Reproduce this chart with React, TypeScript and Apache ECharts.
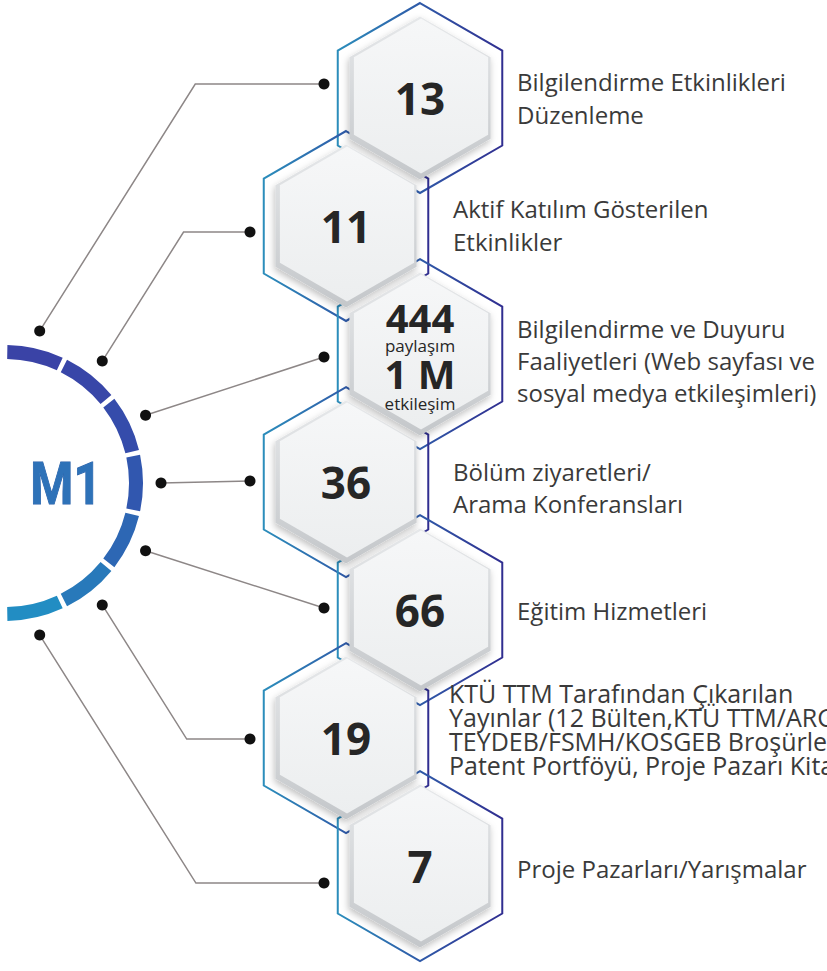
import React, { useEffect, useRef } from "react";
import * as echarts from "echarts";

// ---------- data ----------
const values = ["13", "11", "444", "36", "66", "19", "7"];
const valueNotes = ["", "", "paylaşım", "", "", "", ""];
const secondValues = ["", "", "1 M", "", "", "", ""];
const secondNotes = ["", "", "etkileşim", "", "", "", ""];
const labels = [
  "Bilgilendirme Etkinlikleri\nDüzenleme",
  "Aktif Katılım Gösterilen\nEtkinlikler",
  "Bilgilendirme ve Duyuru\nFaaliyetleri (Web sayfası ve\nsosyal medya etkileşimleri)",
  "Bölüm ziyaretleri/\nArama Konferansları",
  "Eğitim Hizmetleri",
  "KTÜ TTM Tarafından Çıkarılan\nYayınlar (12 Bülten,KTÜ TTM/ARGE\nTEYDEB/FSMH/KOSGEB Broşürleri,\nPatent Portföyü, Proje Pazarı Kitapçığı)",
  "Proje Pazarları/Yarışmalar",
];
const centerTitle = "M1";

// ---------- layout / style (not data) ----------
const segmentColors = ["#3a43a6", "#3846a8", "#354cab", "#3157af", "#2d67b4", "#2879ba", "#228dc3"];
const labelDy = [0, -1, 6, 5, 0, -9, 2];
const labelSize = [24, 24, 24, 24, 24, 25, 24];
const labelLineH = [33, 33, 32, 32, 32, 24, 32];
const dotDy = [-14, 6, 3, -1, -2, 1, 17];
const bent = [true, true, false, false, false, true, true];

const ARC_CX = 5;
const ARC_CY = 483;
const FONT = "'Open Sans', 'Noto Sans', sans-serif";

const cols = values.map((_, i) => (i % 2 === 0 ? 1 : 0));
const rows = values.map((_, i) => i);
const hexData = values.map((_, i) => [cols[i], rows[i]]);

function hexPoints(cx: number, cy: number, R: number) {
  const pts: number[][] = [];
  for (let k = 0; k < 6; k++) {
    const a = ((-90 + 60 * k) * Math.PI) / 180;
    pts.push([cx + R * Math.cos(a), cy + R * Math.sin(a)]);
  }
  return pts;
}

function gridR(api: any) {
  const s = api.size([1, 1]);
  return s[1] / 1.5;
}

export default function App() {
  const ref = useRef<HTMLDivElement>(null);
  useEffect(() => {
    const chart = echarts.init(ref.current!, null, { renderer: "svg" });

    const outlineGrad = () =>
      new echarts.graphic.LinearGradient(0, 0, 1, 0, [
        { offset: 0, color: "#2b8dbb" },
        { offset: 0.5, color: "#2f5aa8" },
        { offset: 1, color: "#302e90" },
      ]);

    const n = values.length;
    const segDeg = 180 / n;

    const option: any = {
      animation: false,
      backgroundColor: "#ffffff",
      grid: { left: 0, right: 0, top: 0, bottom: 0, outerBoundsMode: "none" },
      xAxis: { type: "value", min: -4.676, max: 6.5, show: false },
      yAxis: { type: "value", min: -0.7656, max: 6.82, inverse: true, show: false },
      graphic: [
        {
          type: "text",
          x: 66,
          y: 483,
          scaleX: 0.82,
          z: 10,
          style: {
            text: centerTitle,
            fontSize: 60,
            fontWeight: "bold",
            fontFamily: "Roboto, 'DejaVu Sans', sans-serif",
            align: "center",
            verticalAlign: "middle",
            fill: "#2e72b8",
            stroke: "#2a5fa8",
            lineWidth: 1,
            shadowColor: "#1b1e3a",
            shadowOffsetX: 3,
            shadowOffsetY: 2,
            shadowBlur: 0,
          },
        },
      ],
      series: [
        {
          type: "pie",
          silent: true,
          center: [ARC_CX, ARC_CY],
          radius: [124, 138],
          startAngle: 90,
          clockwise: true,
          padAngle: 2,
          label: { show: false },
          labelLine: { show: false },
          emphasis: { disabled: true },
          z: 1,
          data: [
            ...labels.map((l, i) => ({ name: l, value: 1, itemStyle: { color: segmentColors[i] } })),
            { name: "", value: n, itemStyle: { color: "rgba(0,0,0,0)" } },
          ],
        },
        // connectors
        {
          type: "custom",
          z: 2,
          silent: true,
          data: hexData,
          renderItem: (params: any, api: any) => {
            const i = params.dataIndex;
            const [cx, cy] = api.coord([api.value(0), api.value(1)]);
            const ang = ((90 - (i + 0.5) * segDeg) * Math.PI) / 180;
            const ax = ARC_CX + 156 * Math.cos(ang);
            const ay = ARC_CY - 156 * Math.sin(ang);
            const hx = cx - 96;
            const hy = cy + dotDy[i];
            const pts = bent[i]
              ? [[ax, ay], [ax + Math.abs(hy - ay) * 0.63, hy], [hx, hy]]
              : [[ax, ay], [hx, hy]];
            return {
              type: "group",
              children: [
                { type: "polyline", shape: { points: pts }, style: { stroke: "#8d8787", lineWidth: 1.5, fill: null } },
                { type: "circle", shape: { cx: ax, cy: ay, r: 5.5 }, style: { fill: "#111111" } },
                { type: "circle", shape: { cx: hx, cy: hy, r: 5.5 }, style: { fill: "#111111" } },
              ],
            };
          },
        },
        // outlines
        {
          type: "custom",
          z: 3,
          silent: true,
          data: hexData,
          renderItem: (params: any, api: any) => {
            const [cx, cy] = api.coord([api.value(0), api.value(1)]);
            const R = gridR(api) * 1.113;
            return {
              type: "polygon",
              shape: { points: hexPoints(cx, cy, R) },
              style: { fill: null, stroke: outlineGrad(), lineWidth: 2 },
            };
          },
        },
        // bodies + texts
        {
          type: "custom",
          z: 4,
          silent: true,
          data: hexData,
          renderItem: (params: any, api: any) => {
            const i = params.dataIndex;
            const [cx, cy] = api.coord([api.value(0), api.value(1)]);
            const Rg = gridR(api);
            const R = Rg * 0.955;
            const colA = api.value(0) === 1;
            const children: any[] = [
              {
                type: "polygon",
                shape: { points: hexPoints(cx, cy, R) },
                style: {
                  fill: new echarts.graphic.LinearGradient(0, 0, 0, 1, [
                    { offset: 0, color: "#e6e8ea" },
                    { offset: 1, color: "#c4c7ca" },
                  ]),
                  shadowBlur: 7,
                  shadowColor: "rgba(0,0,0,0.25)",
                  shadowOffsetX: -1,
                  shadowOffsetY: 3,
                },
              },
              {
                type: "polygon",
                shape: { points: hexPoints(cx + 1, cy - 2, R - 4) },
                style: {
                  fill: new echarts.graphic.LinearGradient(0, 0, 0, 1, [
                    { offset: 0, color: "#f6f7f8" },
                    { offset: 1, color: "#eceeef" },
                  ]),
                },
              },
            ];
            if (secondValues[i]) {
              const parts = [
                { t: values[i], s: 40, w: "bold", dy: -37, lh: 28 },
                { t: valueNotes[i], s: 17, w: "normal", dy: -9, lh: 16 },
                { t: secondValues[i], s: 40, w: "bold", dy: 19, lh: 28 },
                { t: secondNotes[i], s: 17, w: "normal", dy: 49, lh: 16 },
              ];
              parts.forEach((p) =>
                children.push({
                  type: "text",
                  x: cx,
                  y: cy + p.dy,
                  style: {
                    text: p.t,
                    fontSize: p.s,
                    lineHeight: p.lh,
                    fontWeight: p.w,
                    fontFamily: FONT,
                    fill: "#262626",
                    align: "center",
                    verticalAlign: "middle",
                  },
                })
              );
            } else {
              children.push({
                type: "text",
                x: cx,
                y: cy,
                style: {
                  text: values[i],
                  fontSize: 44,
                  fontWeight: "bold",
                  fontFamily: FONT,
                  fill: "#262626",
                  align: "center",
                  verticalAlign: "middle",
                },
              });
            }
            children.push({
              type: "text",
              x: cx + (colA ? 97 : 107) - (i === 5 ? 4 : 0),
              y: cy + labelDy[i],
              style: {
                text: labels[i],
                fontSize: labelSize[i],
                fontFamily: FONT,
                fill: "#3a3a3a",
                lineHeight: labelLineH[i],
                align: "left",
                verticalAlign: "middle",
              },
            });
            return { type: "group", children };
          },
        },
      ],
    };
    chart.setOption(option);
    return () => chart.dispose();
  }, []);
  return (
    <div
      ref={ref}
      style={{ position: "fixed", left: 0, top: 0, width: 827, height: 971, background: "#fff" }}
    />
  );
}
